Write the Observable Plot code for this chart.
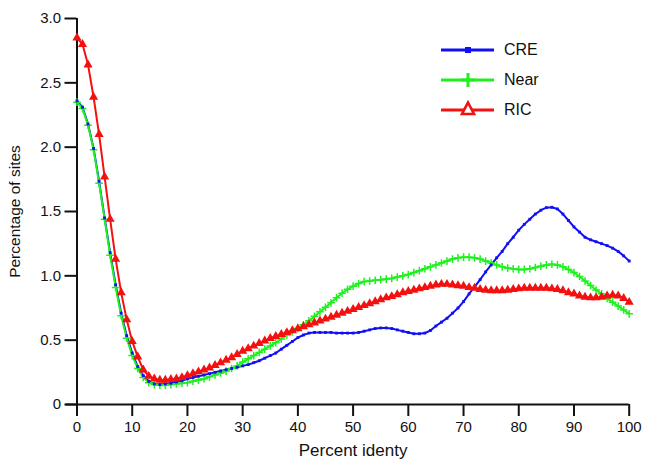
<!DOCTYPE html>
<html><head><meta charset="utf-8">
<script src="https://cdn.jsdelivr.net/npm/d3@7"></script>
<script src="https://cdn.jsdelivr.net/npm/@observablehq/plot@0.6"></script>
<style>
body{margin:0;background:#fff;font-family:"Liberation Sans",Arial,sans-serif;}
#wrap{position:relative;width:645px;height:463px;}
#legend{position:absolute;left:441px;top:35px;}
.row{display:flex;align-items:center;height:30px;}
.row svg{display:block;}
.row span{font-size:16px;margin-left:9px;color:#111;}
#wrap svg text{font-size:15px !important;font-family:"Liberation Sans",Arial,sans-serif;}
#wrap svg g[aria-label="x-axis label"] text{font-size:17px !important;}
#wrap svg g[aria-label="y-axis label"] text{font-size:15.5px !important;}
</style></head><body><div id="wrap"><div id="legend"></div></div>
<script>
const percentIdentity = [0,1,2,3,4,5,6,7,8,9,10,11,12,13,14,15,16,17,18,19,20,21,22,23,24,25,26,27,28,29,30,31,32,33,34,35,36,37,38,39,40,41,42,43,44,45,46,47,48,49,50,51,52,53,54,55,56,57,58,59,60,61,62,63,64,65,66,67,68,69,70,71,72,73,74,75,76,77,78,79,80,81,82,83,84,85,86,87,88,89,90,91,92,93,94,95,96,97,98,99,100];

const cre = [2.36,2.31,2.18,1.99,1.735,1.45,1.18,0.93,0.71,0.535,0.40,0.295,0.225,0.18,0.16,0.155,0.16,0.165,0.175,0.185,0.20,0.21,0.22,0.23,0.24,0.25,0.26,0.27,0.28,0.29,0.30,0.31,0.325,0.34,0.36,0.38,0.40,0.43,0.46,0.49,0.52,0.54,0.555,0.56,0.56,0.56,0.56,0.555,0.555,0.555,0.555,0.56,0.57,0.58,0.59,0.595,0.595,0.59,0.58,0.57,0.56,0.55,0.55,0.555,0.575,0.61,0.64,0.67,0.71,0.75,0.80,0.86,0.915,0.97,1.03,1.085,1.14,1.19,1.25,1.30,1.355,1.40,1.44,1.48,1.51,1.53,1.533,1.52,1.48,1.43,1.38,1.34,1.30,1.28,1.265,1.25,1.235,1.215,1.19,1.155,1.115];

const near = [2.35,2.30,2.17,1.98,1.72,1.44,1.16,0.91,0.69,0.515,0.38,0.28,0.21,0.17,0.155,0.15,0.15,0.155,0.16,0.165,0.17,0.18,0.19,0.20,0.215,0.23,0.245,0.26,0.28,0.30,0.33,0.355,0.38,0.405,0.43,0.455,0.48,0.51,0.54,0.565,0.59,0.62,0.65,0.685,0.72,0.755,0.79,0.83,0.865,0.895,0.92,0.94,0.955,0.96,0.965,0.97,0.975,0.98,0.99,1.00,1.01,1.025,1.04,1.055,1.07,1.085,1.10,1.115,1.13,1.14,1.145,1.145,1.14,1.13,1.115,1.10,1.085,1.07,1.06,1.055,1.05,1.05,1.055,1.065,1.075,1.085,1.09,1.085,1.07,1.05,1.025,0.995,0.96,0.925,0.89,0.86,0.825,0.795,0.765,0.735,0.705];

const ric = [2.85,2.80,2.64,2.39,2.10,1.77,1.44,1.13,0.87,0.66,0.49,0.37,0.27,0.22,0.20,0.19,0.19,0.195,0.20,0.21,0.225,0.24,0.255,0.27,0.285,0.305,0.325,0.345,0.365,0.39,0.415,0.435,0.455,0.475,0.495,0.515,0.53,0.545,0.56,0.575,0.59,0.605,0.62,0.635,0.65,0.665,0.68,0.695,0.71,0.725,0.74,0.755,0.77,0.785,0.80,0.815,0.83,0.84,0.855,0.87,0.88,0.89,0.90,0.91,0.92,0.93,0.935,0.935,0.93,0.925,0.92,0.91,0.905,0.895,0.89,0.885,0.885,0.885,0.89,0.895,0.90,0.905,0.905,0.905,0.905,0.905,0.90,0.895,0.885,0.87,0.86,0.845,0.835,0.83,0.83,0.835,0.845,0.85,0.845,0.825,0.795];

const xTicks = [0,10,20,30,40,50,60,70,80,90,100];
const yTicks = [0,0.5,1.0,1.5,2.0,2.5,3.0];
const xLabel = "Percent identy";
const yLabel = "Percentage of sites";

const seriesNames = ["CRE","Near","RIC"];
const colors = {CRE:"#1010f5", Near:"#20f020", RIC:"#f51010"};
const seriesValues = {CRE: cre, Near: near, RIC: ric};

const rows = (name) => percentIdentity.map((x,i) => ({x, y: seriesValues[name][i], s: name}));
const dCRE = rows("CRE"), dNear = rows("Near"), dRIC = rows("RIC");

const font = '"Liberation Sans", Arial, sans-serif';

const chart = Plot.plot({
  width: 645,
  height: 463,
  marginLeft: 76.5,
  marginRight: 16.3,
  marginTop: 18,
  marginBottom: 59,
  style: {fontFamily: font, fontSize: "15px", background: "#fff", color: "#111"},
  x: {domain: [0,100]},
  y: {domain: [0,3]},
  marks: [
    Plot.axisX({ticks: xTicks, tickSize: 12, tickPadding: 5, strokeWidth: 2,
      label: xLabel, labelAnchor: "center", labelArrow: "none", labelOffset: 51}),
    Plot.axisY({ticks: yTicks, tickSize: 12, tickPadding: 4, strokeWidth: 2,
      tickFormat: d => d === 0 ? "0" : d.toFixed(1),
      label: yLabel, labelAnchor: "center", labelArrow: "none", labelOffset: 68}),
    Plot.ruleY([0], {x1: -2, x2: 100, stroke: "#111", strokeWidth: 2}),
    Plot.ruleX([0], {y1: 0, y2: 3, stroke: "#111", strokeWidth: 2}),
    Plot.line(dCRE, {x: "x", y: "y", stroke: colors.CRE, strokeWidth: 2}),
    Plot.line(dNear, {x: "x", y: "y", stroke: colors.Near, strokeWidth: 2}),
    Plot.line(dRIC, {x: "x", y: "y", stroke: colors.RIC, strokeWidth: 2}),
    Plot.dot(dNear, {x: "x", y: "y", symbol: "plus", r: 2.6, stroke: colors.Near, strokeWidth: 1.5}),
    Plot.dot(dCRE, {x: "x", y: "y", symbol: "square", r: 1.6, fill: colors.CRE, stroke: "none"}),
    Plot.dot(dRIC, {x: "x", y: "y", symbol: "triangle", r: 3.4, fill: colors.RIC, stroke: "none"})
  ]
});
document.getElementById("wrap").prepend(chart);
chart.style.display = "block";

// Legend
const legend = d3.select("#legend");
for (const name of seriesNames) {
  const row = legend.append("div").attr("class", "row");
  const svg = row.append("svg").attr("width", 54).attr("height", 20);
  svg.append("line").attr("x1", 0).attr("x2", 53).attr("y1", 10).attr("y2", 10)
    .attr("stroke", colors[name]).attr("stroke-width", 3);
  if (name === "CRE") {
    svg.append("rect").attr("x", 24).attr("y", 7).attr("width", 6).attr("height", 6).attr("fill", colors[name]);
  } else if (name === "Near") {
    svg.append("path").attr("d", "M27,3V17M20,10H34").attr("stroke", colors[name]).attr("stroke-width", 3);
  } else {
    svg.append("path").attr("d", "M27,2.5L33,14L21,14Z").attr("fill", "#fff").attr("stroke", colors[name]).attr("stroke-width", 2.6);
  }
  row.append("span").text(name);
}
</script></body></html>
